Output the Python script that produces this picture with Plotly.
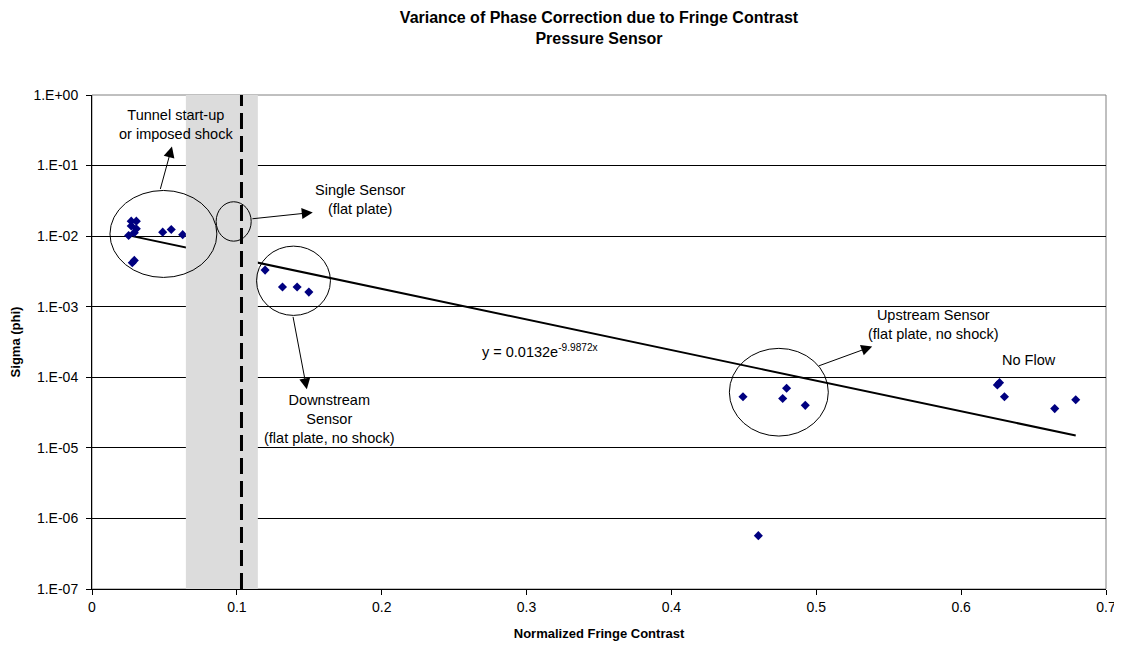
import numpy as np
import plotly.graph_objects as go

# ---- data ----
fringe_contrast = [0.0271, 0.0306, 0.0271, 0.0306, 0.0253, 0.0292, 0.0292, 0.0278,
                   0.0488, 0.0547, 0.0626,
                   0.1195, 0.1315, 0.1416, 0.1497,
                   0.4494, 0.4795, 0.4768, 0.4924, 0.4600,
                   0.6250, 0.6265, 0.6299, 0.6646, 0.6791]
sigma_phi = [0.0163, 0.0163, 0.0139, 0.0127, 0.0102, 0.0112, 0.00453, 0.0042,
             0.0114, 0.0124, 0.0105,
             0.0033, 0.0019, 0.0019, 0.00161,
             5.3e-5, 7.0e-5, 5.0e-5, 4.0e-5, 5.7e-7,
             7.8e-5, 8.4e-5, 5.3e-5, 3.6e-5, 4.8e-5]

trend_a = 0.0132
trend_b = -9.9872

band_x = [0.0648, 0.1145]
dashed_x = 0.1032

y_tickvals = [1e0, 1e-1, 1e-2, 1e-3, 1e-4, 1e-5, 1e-6, 1e-7]
y_ticktext = ["1.E+00", "1.E-01", "1.E-02", "1.E-03", "1.E-04", "1.E-05", "1.E-06", "1.E-07"]
x_tickvals = [0, 0.1, 0.2, 0.3, 0.4, 0.5, 0.6, 0.7]
x_ticktext = ["0", "0.1", "0.2", "0.3", "0.4", "0.5", "0.6", "0.7"]

# ellipses (x0, x1, y0, y1) in data units
ellipses = [
    (0.0124, 0.0862, 0.0026, 0.0444),     # tunnel start-up
    (0.0857, 0.1099, 0.00849, 0.0307),    # single sensor
    (0.1136, 0.1646, 7.53e-4, 0.00722),   # downstream
    (0.4400, 0.5083, 1.47e-5, 2.57e-4),   # upstream
]

# arrows: (tail_x, tail_y, tip_x, tip_y)
arrows = [
    (0.0469, 10**-1.353, 0.0552, 10**-0.730),
    (0.1097, 10**-1.756, 0.1524, 10**-1.664),
    (0.1386, 10**-3.123, 0.1483, 10**-4.171),
    (0.5007, 10**-3.846, 0.5386, 10**-3.562),
]

labels = [
    ("Tunnel start-up<br>or imposed shock", 0.0579, 10**-0.418, "center"),
    ("Single Sensor<br>(flat plate)", 0.1848, 10**-1.480, "center"),
    ("Downstream<br>Sensor<br>(flat plate, no shock)", 0.1641, 10**-4.596, "center"),
    ("y = 0.0132e<sup>-9.9872x</sup>", 0.2676, 10**-3.633, "left"),
    ("Upstream Sensor<br>(flat plate, no shock)", 0.5807, 10**-3.251, "center"),
    ("No Flow", 0.6469, 10**-3.761, "center"),
]

FONT = "Liberation Sans, Arial, sans-serif"
W, H = 1114, 638  # page body has an 8px margin

fig = go.Figure()

# trendline
tx = np.linspace(min(fringe_contrast), max(fringe_contrast), 200)
ty = trend_a * np.exp(trend_b * tx)
fig.add_trace(go.Scatter(x=tx, y=ty, mode="lines",
                         line=dict(color="black", width=2), hoverinfo="skip",
                         showlegend=False))

fig.add_trace(go.Scatter(x=fringe_contrast, y=sigma_phi, mode="markers",
                         marker=dict(symbol="diamond", size=7, color="#000080"),
                         showlegend=False))

shapes = []
shapes.append(dict(type="rect", xref="paper", yref="paper", x0=0, x1=1, y0=0, y1=1,
                   line=dict(color="#808080", width=1), layer="below"))
shapes.append(dict(type="rect", xref="x", yref="paper", x0=band_x[0], x1=band_x[1],
                   y0=0, y1=1, fillcolor="#dcdcdc", line=dict(width=0), layer="above"))
shapes.append(dict(type="line", xref="x", yref="paper", x0=dashed_x, x1=dashed_x,
                   y0=0, y1=1, line=dict(color="black", width=3, dash="16px,7px"),
                   layer="above"))
for (x0, x1, y0, y1) in ellipses:
    shapes.append(dict(type="circle", xref="x", yref="y", x0=x0, x1=x1, y0=y0, y1=y1,
                       line=dict(color="black", width=1), layer="above"))

annotations = []
for (tx0, ty0, hx, hy) in arrows:
    annotations.append(dict(x=hx, y=np.log10(hy), ax=tx0, ay=np.log10(ty0),
                            xref="x", yref="y", axref="x", ayref="y",
                            text="", showarrow=True, arrowhead=2, arrowsize=2.2,
                            arrowwidth=1, arrowcolor="black"))
for (txt, lx, ly, anchor) in labels:
    annotations.append(dict(x=lx, y=np.log10(ly), xref="x", yref="y", text=txt,
                            showarrow=False, xanchor=anchor, yanchor="middle",
                            align="center", font=dict(family=FONT, size=14.5, color="black")))

fig.update_layout(
    width=W, height=H,
    margin=dict(l=84, r=16, t=87, b=57),
    paper_bgcolor="white", plot_bgcolor="white",
    font=dict(family=FONT, size=14, color="black"),
    title=dict(text="<b>Variance of Phase Correction due to Fringe Contrast<br>Pressure Sensor</b>",
               x=591 / W, xanchor="center", y=1 - 15 / H, yanchor="middle",
               font=dict(family=FONT, size=16, color="black")),
    shapes=shapes, annotations=annotations,
    xaxis=dict(range=[0, 0.7], tickvals=x_tickvals, ticktext=x_ticktext,
               showgrid=False, zeroline=False, showline=True, linecolor="black",
               linewidth=1, ticks="outside", ticklen=5, tickcolor="black",
               tickfont=dict(size=14), automargin=False,
               title=dict(text="<b>Normalized Fringe Contrast</b>", font=dict(size=13), standoff=15)),
    yaxis=dict(type="log", range=[-7, 0], tickvals=y_tickvals, ticktext=y_ticktext,
               showgrid=True, gridcolor="black", gridwidth=1, zeroline=False,
               showline=True, linecolor="black", linewidth=1, ticks="outside",
               ticklen=5, tickcolor="black", tickfont=dict(size=14), automargin=False,
               ticklabelstandoff=5,
               title=dict(text="<b>Sigma (phi)</b>", font=dict(size=13), standoff=18)),
)

fig.write_html("out.html")
